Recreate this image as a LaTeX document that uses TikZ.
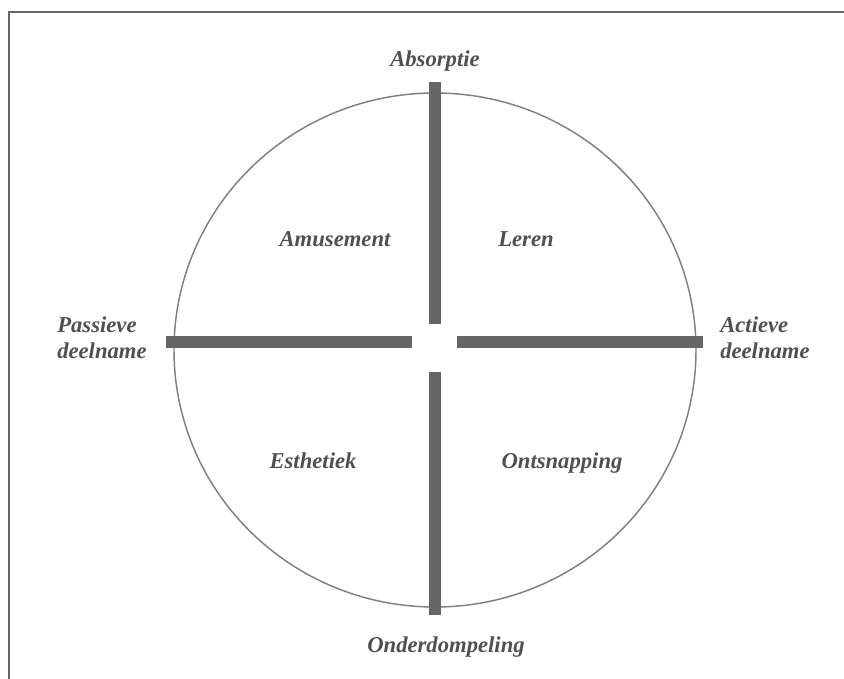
\documentclass[tikz,border=0pt]{standalone}
\usepackage{fontspec}
\setmainfont{Liberation Serif}
\definecolor{bargray}{HTML}{666666}
\definecolor{textgray}{HTML}{505050}
\tikzset{
  quadtext/.style={font=\bfseries\itshape\fontsize{17}{19.5}\selectfont, text=textgray, inner sep=0pt},
  axisbar/.style={bargray, line width=9pt},
  circline/.style={gray, line width=1.1pt}
}
\begin{document}
\begin{tikzpicture}[x=0.75pt, y=-0.75pt]
      \useasboundingbox (0,0) rectangle (844,679);
      %
      \draw[bargray, line width=1.8pt] (9,679) -- (9,12) -- (844,12); % frame
      %
      \draw[circline] (435,350) ellipse [x radius=261, y radius=257]; % circle
      %
      \draw[axisbar] (435,82) -- (435,324);   % top bar
      \draw[axisbar] (435,372) -- (435,615);  % bottom bar
      \draw[axisbar] (166,342) -- (412,342);  % left bar
      \draw[axisbar] (457,342) -- (703,342);  % right bar
      %
      \node[quadtext, anchor=base] (absorptie) at (435,66) {Absorptie};           % axis ends
      \node[quadtext, anchor=base] (onderdompeling) at (446,652) {Onderdompeling};
      \node[quadtext, anchor=west, align=left] (passief) at (57,338) {Passieve\\deelname};
      \node[quadtext, anchor=west, align=left] (actief) at (720,338) {Actieve\\deelname};
      %%
      \node[quadtext, anchor=base] (amusement) at (335,246) {Amusement};          % quadrants
      \node[quadtext, anchor=base] (leren) at (526,246) {Leren};
      \node[quadtext, anchor=base] (esthetiek) at (313,468) {Esthetiek};
      \node[quadtext, anchor=base] (ontsnapping) at (562,468) {Ontsnapping};
      %
    \end{tikzpicture}
\end{document}
